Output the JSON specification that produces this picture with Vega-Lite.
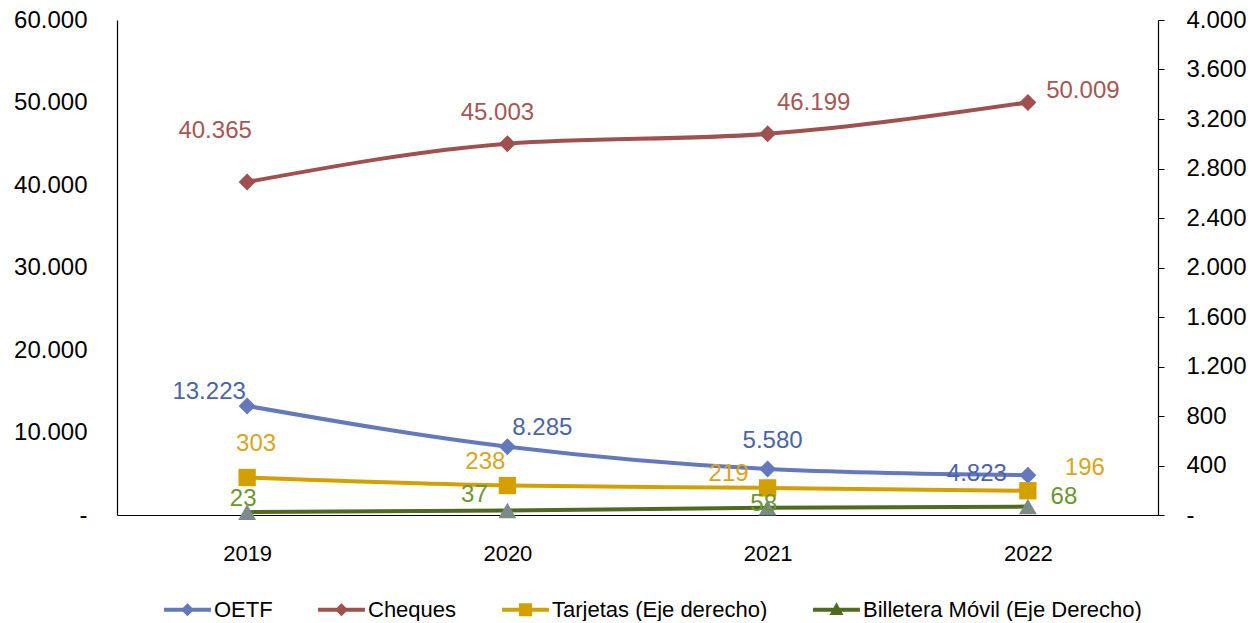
{
  "$schema": "https://vega.github.io/schema/vega-lite/v6.json",
  "width": 1041,
  "height": 495,
  "padding": {"left": 13, "top": 8, "right": 0, "bottom": 0},
  "background": "white",
  "config": {
    "view": {"stroke": null},
    "font": "Liberation Sans",
    "locale": {"number": {"decimal": ",", "thousands": ".", "grouping": [3], "currency": ["$", ""]}},
    "axis": {"labelFont": "Liberation Sans", "labelColor": "#000000", "domainColor": "#000000", "tickColor": "#000000", "grid": false, "title": null},
    "legend": {"labelFont": "Liberation Sans", "labelFontSize": 22, "labelColor": "#000000", "labelLimit": 400},
    "text": {"font": "Liberation Sans", "fontSize": 24}
  },
  "data": {"values": [
    {"year": "2019", "series": "OETF", "value": 13223},
    {"year": "2020", "series": "OETF", "value": 8285},
    {"year": "2021", "series": "OETF", "value": 5580},
    {"year": "2022", "series": "OETF", "value": 4823},
    {"year": "2019", "series": "Cheques", "value": 40365},
    {"year": "2020", "series": "Cheques", "value": 45003},
    {"year": "2021", "series": "Cheques", "value": 46199},
    {"year": "2022", "series": "Cheques", "value": 50009},
    {"year": "2019", "series": "Tarjetas (Eje derecho)", "value": 303},
    {"year": "2020", "series": "Tarjetas (Eje derecho)", "value": 238},
    {"year": "2021", "series": "Tarjetas (Eje derecho)", "value": 219},
    {"year": "2022", "series": "Tarjetas (Eje derecho)", "value": 196},
    {"year": "2019", "series": "Billetera Móvil (Eje Derecho)", "value": 23},
    {"year": "2020", "series": "Billetera Móvil (Eje Derecho)", "value": 37},
    {"year": "2021", "series": "Billetera Móvil (Eje Derecho)", "value": 58},
    {"year": "2022", "series": "Billetera Móvil (Eje Derecho)", "value": 68}
  ]},
  "encoding": {
    "x": {"field": "year", "type": "ordinal", "scale": {"type": "point", "padding": 0.5},
      "axis": {"labelAngle": 0, "labelFontSize": 22, "ticks": false, "tickSize": 0, "labelPadding": 28, "domainWidth": 1.2}}
  },
  "layer": [
    {
      "transform": [{"filter": "datum.series === 'OETF' || datum.series === 'Cheques'"}],
      "encoding": {
        "y": {"field": "value", "type": "quantitative", "scale": {"domain": [0, 60000]},
          "axis": {"orient": "left", "values": [0, 10000, 20000, 30000, 40000, 50000, 60000], "format": ",.0f", "labelExpr": "datum.value == 0 ? '-' : datum.label", "labelFontSize": 24, "ticks": false, "tickSize": 0, "labelPadding": 30, "domainWidth": 1.2}}
      },
      "layer": [
        {"transform": [{"filter": "datum.series === 'OETF'"}], "mark": {"type": "line", "interpolate": "monotone", "strokeWidth": 4, "color": "#6478BE"}},
        {"transform": [{"filter": "datum.series === 'Cheques'"}], "mark": {"type": "line", "interpolate": "monotone", "strokeWidth": 4, "color": "#A0504E"}},
        {"transform": [{"filter": "datum.series === 'OETF'"}], "mark": {"type": "point", "shape": "diamond", "filled": true, "opacity": 1, "size": 290, "color": "#6478BE"}},
        {"transform": [{"filter": "datum.series === 'Cheques'"}], "mark": {"type": "point", "shape": "diamond", "filled": true, "opacity": 1, "size": 290, "color": "#A0504E"}},
        {
          "mark": {"type": "point", "filled": true, "opacity": 1, "size": 0},
          "encoding": {
            "color": {"field": "series", "type": "nominal",
              "scale": {"domain": ["OETF", "Cheques", "Tarjetas (Eje derecho)", "Billetera Móvil (Eje Derecho)"], "range": ["#6478BE", "#A0504E", "#D4A000", "#4E6B1E"]},
              "legend": {"title": null, "orient": "none", "legendX": 46, "legendY": 565, "direction": "horizontal", "symbolSize": 2200, "labelOffset": 2, "columnPadding": 44}},
            "shape": {"field": "series", "type": "nominal",
              "scale": {"domain": ["OETF", "Cheques", "Tarjetas (Eje derecho)", "Billetera Móvil (Eje Derecho)"],
                "range": ["M-1,-0.09H1V0.09H-1Z M0,-0.28L0.28,0L0,0.28L-0.28,0Z", "M-1,-0.09H1V0.09H-1Z M0,-0.28L0.28,0L0,0.28L-0.28,0Z", "M-1,-0.09H1V0.09H-1Z M-0.28,-0.28H0.28V0.28H-0.28Z", "M-1,-0.09H1V0.09H-1Z M0,-0.32L0.3,0.22H-0.3Z"]},
              "legend": {"title": null, "orient": "none", "legendX": 46, "legendY": 565, "direction": "horizontal", "symbolSize": 2200, "labelOffset": 2, "columnPadding": 44}}
          }
        },
        {"transform": [{"filter": "datum.series === 'OETF' && datum.year === '2019'"}], "mark": {"type": "text", "dx": -38, "dy": -14, "color": "#4A64AA"}, "encoding": {"text": {"field": "value", "format": ",.0f"}}},
        {"transform": [{"filter": "datum.series === 'OETF' && datum.year === '2020'"}], "mark": {"type": "text", "dx": 35, "dy": -19, "color": "#4A64AA"}, "encoding": {"text": {"field": "value", "format": ",.0f"}}},
        {"transform": [{"filter": "datum.series === 'OETF' && datum.year === '2021'"}], "mark": {"type": "text", "dx": 5, "dy": -28, "color": "#4A64AA"}, "encoding": {"text": {"field": "value", "format": ",.0f"}}},
        {"transform": [{"filter": "datum.series === 'OETF' && datum.year === '2022'"}], "mark": {"type": "text", "dx": -51, "dy": -1, "color": "#4A64AA"}, "encoding": {"text": {"field": "value", "format": ",.0f"}}},
        {"transform": [{"filter": "datum.series === 'Cheques' && datum.year === '2019'"}], "mark": {"type": "text", "dx": -32, "dy": -51, "color": "#A65654"}, "encoding": {"text": {"field": "value", "format": ",.0f"}}},
        {"transform": [{"filter": "datum.series === 'Cheques' && datum.year === '2020'"}], "mark": {"type": "text", "dx": -10, "dy": -31, "color": "#A65654"}, "encoding": {"text": {"field": "value", "format": ",.0f"}}},
        {"transform": [{"filter": "datum.series === 'Cheques' && datum.year === '2021'"}], "mark": {"type": "text", "dx": 46, "dy": -31, "color": "#A65654"}, "encoding": {"text": {"field": "value", "format": ",.0f"}}},
        {"transform": [{"filter": "datum.series === 'Cheques' && datum.year === '2022'"}], "mark": {"type": "text", "dx": 55, "dy": -11, "color": "#A65654"}, "encoding": {"text": {"field": "value", "format": ",.0f"}}}
      ]
    },
    {
      "transform": [{"filter": "datum.series === 'Tarjetas (Eje derecho)' || datum.series === 'Billetera Móvil (Eje Derecho)'"}],
      "encoding": {
        "y": {"field": "value", "type": "quantitative", "scale": {"domain": [0, 4000]},
          "axis": {"orient": "right", "values": [0, 400, 800, 1200, 1600, 2000, 2400, 2800, 3200, 3600, 4000], "format": ",.0f", "labelExpr": "datum.value == 0 ? '-' : datum.label", "labelFontSize": 24, "ticks": true, "tickSize": 6, "labelPadding": 22, "domainWidth": 1.2}}
      },
      "layer": [
        {"transform": [{"filter": "datum.series === 'Tarjetas (Eje derecho)'"}], "mark": {"type": "line", "interpolate": "monotone", "strokeWidth": 4, "color": "#D4A000"}},
        {"transform": [{"filter": "datum.series === 'Billetera Móvil (Eje Derecho)'"}], "mark": {"type": "line", "interpolate": "monotone", "strokeWidth": 4, "color": "#4E6B1E"}},
        {"transform": [{"filter": "datum.series === 'Tarjetas (Eje derecho)'"}], "mark": {"type": "point", "shape": "square", "filled": true, "opacity": 1, "size": 300, "color": "#D4A000"}},
        {"transform": [{"filter": "datum.series === 'Billetera Móvil (Eje Derecho)'"}], "mark": {"type": "point", "shape": "triangle-up", "filled": true, "opacity": 1, "size": 320, "color": "#7D8A8A"}},
        {"transform": [{"filter": "datum.series === 'Tarjetas (Eje derecho)' && datum.year === '2019'"}], "mark": {"type": "text", "dx": 9, "dy": -34, "color": "#D9A51A"}, "encoding": {"text": {"field": "value", "format": ",.0f"}}},
        {"transform": [{"filter": "datum.series === 'Tarjetas (Eje derecho)' && datum.year === '2020'"}], "mark": {"type": "text", "dx": -22, "dy": -24, "color": "#D9A51A"}, "encoding": {"text": {"field": "value", "format": ",.0f"}}},
        {"transform": [{"filter": "datum.series === 'Tarjetas (Eje derecho)' && datum.year === '2021'"}], "mark": {"type": "text", "dx": -39, "dy": -14, "color": "#D9A51A"}, "encoding": {"text": {"field": "value", "format": ",.0f"}}},
        {"transform": [{"filter": "datum.series === 'Tarjetas (Eje derecho)' && datum.year === '2022'"}], "mark": {"type": "text", "dx": 57, "dy": -23, "color": "#D9A51A"}, "encoding": {"text": {"field": "value", "format": ",.0f"}}},
        {"transform": [{"filter": "datum.series === 'Billetera Móvil (Eje Derecho)' && datum.year === '2019'"}], "mark": {"type": "text", "dx": -4, "dy": -13, "color": "#6B9630"}, "encoding": {"text": {"field": "value", "format": ",.0f"}}},
        {"transform": [{"filter": "datum.series === 'Billetera Móvil (Eje Derecho)' && datum.year === '2020'"}], "mark": {"type": "text", "dx": -33, "dy": -15, "color": "#6B9630"}, "encoding": {"text": {"field": "value", "format": ",.0f"}}},
        {"transform": [{"filter": "datum.series === 'Billetera Móvil (Eje Derecho)' && datum.year === '2021'"}], "mark": {"type": "text", "dx": -4, "dy": -4, "color": "#6B9630"}, "encoding": {"text": {"field": "value", "format": ",.0f"}}},
        {"transform": [{"filter": "datum.series === 'Billetera Móvil (Eje Derecho)' && datum.year === '2022'"}], "mark": {"type": "text", "dx": 36, "dy": -10, "color": "#6B9630"}, "encoding": {"text": {"field": "value", "format": ",.0f"}}}
      ]
    }
  ],
  "resolve": {"scale": {"y": "independent"}}
}
